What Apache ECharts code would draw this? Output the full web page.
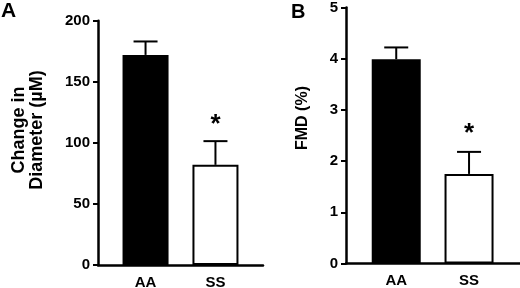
<!DOCTYPE html>
<html><head><meta charset="utf-8">
<style>html,body{margin:0;padding:0;background:#fff}#c{width:520px;height:288px}</style>
<script src="https://cdn.jsdelivr.net/npm/echarts@6/dist/echarts.min.js"></script>
</head><body><div id="c"></div>
<script>
var categories = ['AA', 'SS'];
var diameterMean = [172, 82];
var diameterSem = [11, 19.4];
var fmdMean = [3.99, 1.75];
var fmdSem = [0.23, 0.43];
var significance = ['', '*'];
var diameterTicks = [0, 50, 100, 150, 200];
var fmdTicks = [0, 1, 2, 3, 4, 5];

var FONT = '"Liberation Sans", Arial, sans-serif';
var chart = echarts.init(document.getElementById('c'), null, {renderer: 'canvas'});

function barData(means) {
  return means.map(function (v, i) {
    return {
      value: [i, v],
      itemStyle: i === 0 ? {color: '#000', borderColor: '#000', borderWidth: 2}
                         : {color: '#fff', borderColor: '#000', borderWidth: 2}
    };
  });
}
function errData(means, sems) {
  return means.map(function (v, i) { return [i, v, v + sems[i]]; });
}
function errRender(gap) {
  return function (params, api) {
    var i = api.value(0);
    var top = api.coord([i, api.value(2)]);
    var bot = api.coord([i, api.value(1)]);
    var base = api.coord([i, 0]);
    var half = 12;
    var children = [
      {type: 'line', shape: {x1: top[0], y1: top[1], x2: bot[0], y2: bot[1]}, style: {stroke: '#000', lineWidth: 2}},
      {type: 'line', shape: {x1: top[0] - half, y1: top[1], x2: top[0] + half, y2: top[1]}, style: {stroke: '#000', lineWidth: 2}},
      {type: 'text', x: base[0], y: base[1] + 10, style: {text: categories[i], font: 'bold 15px ' + FONT, fill: '#000', align: 'center', verticalAlign: 'top'}}
    ];
    if (significance[i]) {
      children.push({type: 'text', x: top[0], y: top[1] - gap, style: {text: significance[i], font: 'bold 26px ' + FONT, fill: '#000', align: 'center', verticalAlign: 'middle'}});
    }
    return {type: 'group', children: children};
  };
}

function yAxis(gridIndex, ticks) {
  return {
    type: 'value', gridIndex: gridIndex, position: 'left',
    min: ticks[0], max: ticks[ticks.length - 1], interval: ticks[1] - ticks[0],
    axisLine: {show: true, onZero: false, lineStyle: {color: '#000', width: 2.5}},
    axisTick: {show: true, length: 5, lineStyle: {color: '#000', width: 2}},
    axisLabel: {color: '#000', fontSize: 15, fontWeight: 'bold', fontFamily: FONT, margin: 8},
    splitLine: {show: false}
  };
}
function xAxis(gridIndex, min, max) {
  return {
    type: 'value', gridIndex: gridIndex, position: 'bottom', min: min, max: max,
    axisLine: {show: true, onZero: false, lineStyle: {color: '#000', width: 2.5}},
    axisTick: {show: false}, axisLabel: {show: false}, splitLine: {show: false}
  };
}

chart.setOption({
  animation: false,
  grid: [
    {left: 98, right: 257, top: 20.7, bottom: 23},
    {left: 346, right: 0, top: 7.5, bottom: 24.5}
  ],
  xAxis: [xAxis(0, -0.68, 1.68), xAxis(1, -0.69, 1.70)],
  yAxis: [yAxis(0, diameterTicks), yAxis(1, fmdTicks)],
  series: [
    {type: 'bar', xAxisIndex: 0, yAxisIndex: 0, barWidth: 46, data: barData(diameterMean)},
    {type: 'custom', xAxisIndex: 0, yAxisIndex: 0, renderItem: errRender(16), data: errData(diameterMean, diameterSem), z: 5},
    {type: 'bar', xAxisIndex: 1, yAxisIndex: 1, barWidth: 49, data: barData(fmdMean)},
    {type: 'custom', xAxisIndex: 1, yAxisIndex: 1, renderItem: errRender(18), data: errData(fmdMean, fmdSem), z: 5}
  ],
  graphic: [
    {type: 'text', left: 1, top: 1, style: {text: 'A', font: 'bold 21px ' + FONT, fill: '#000'}},
    {type: 'text', left: 291, top: 2, style: {text: 'B', font: 'bold 20px ' + FONT, fill: '#000'}},
    {type: 'text', x: 28, y: 130, rotation: Math.PI / 2,
     style: {text: 'Change in\nDiameter (\u00b5M)', font: 'bold 18px ' + FONT, lineHeight: 18, fill: '#000', align: 'center', verticalAlign: 'middle'}},
    {type: 'text', x: 303, y: 118, rotation: Math.PI / 2,
     style: {text: 'FMD (%)', font: 'bold 16px ' + FONT, fill: '#000', align: 'center', verticalAlign: 'middle'}}
  ]
});
</script></body></html>
